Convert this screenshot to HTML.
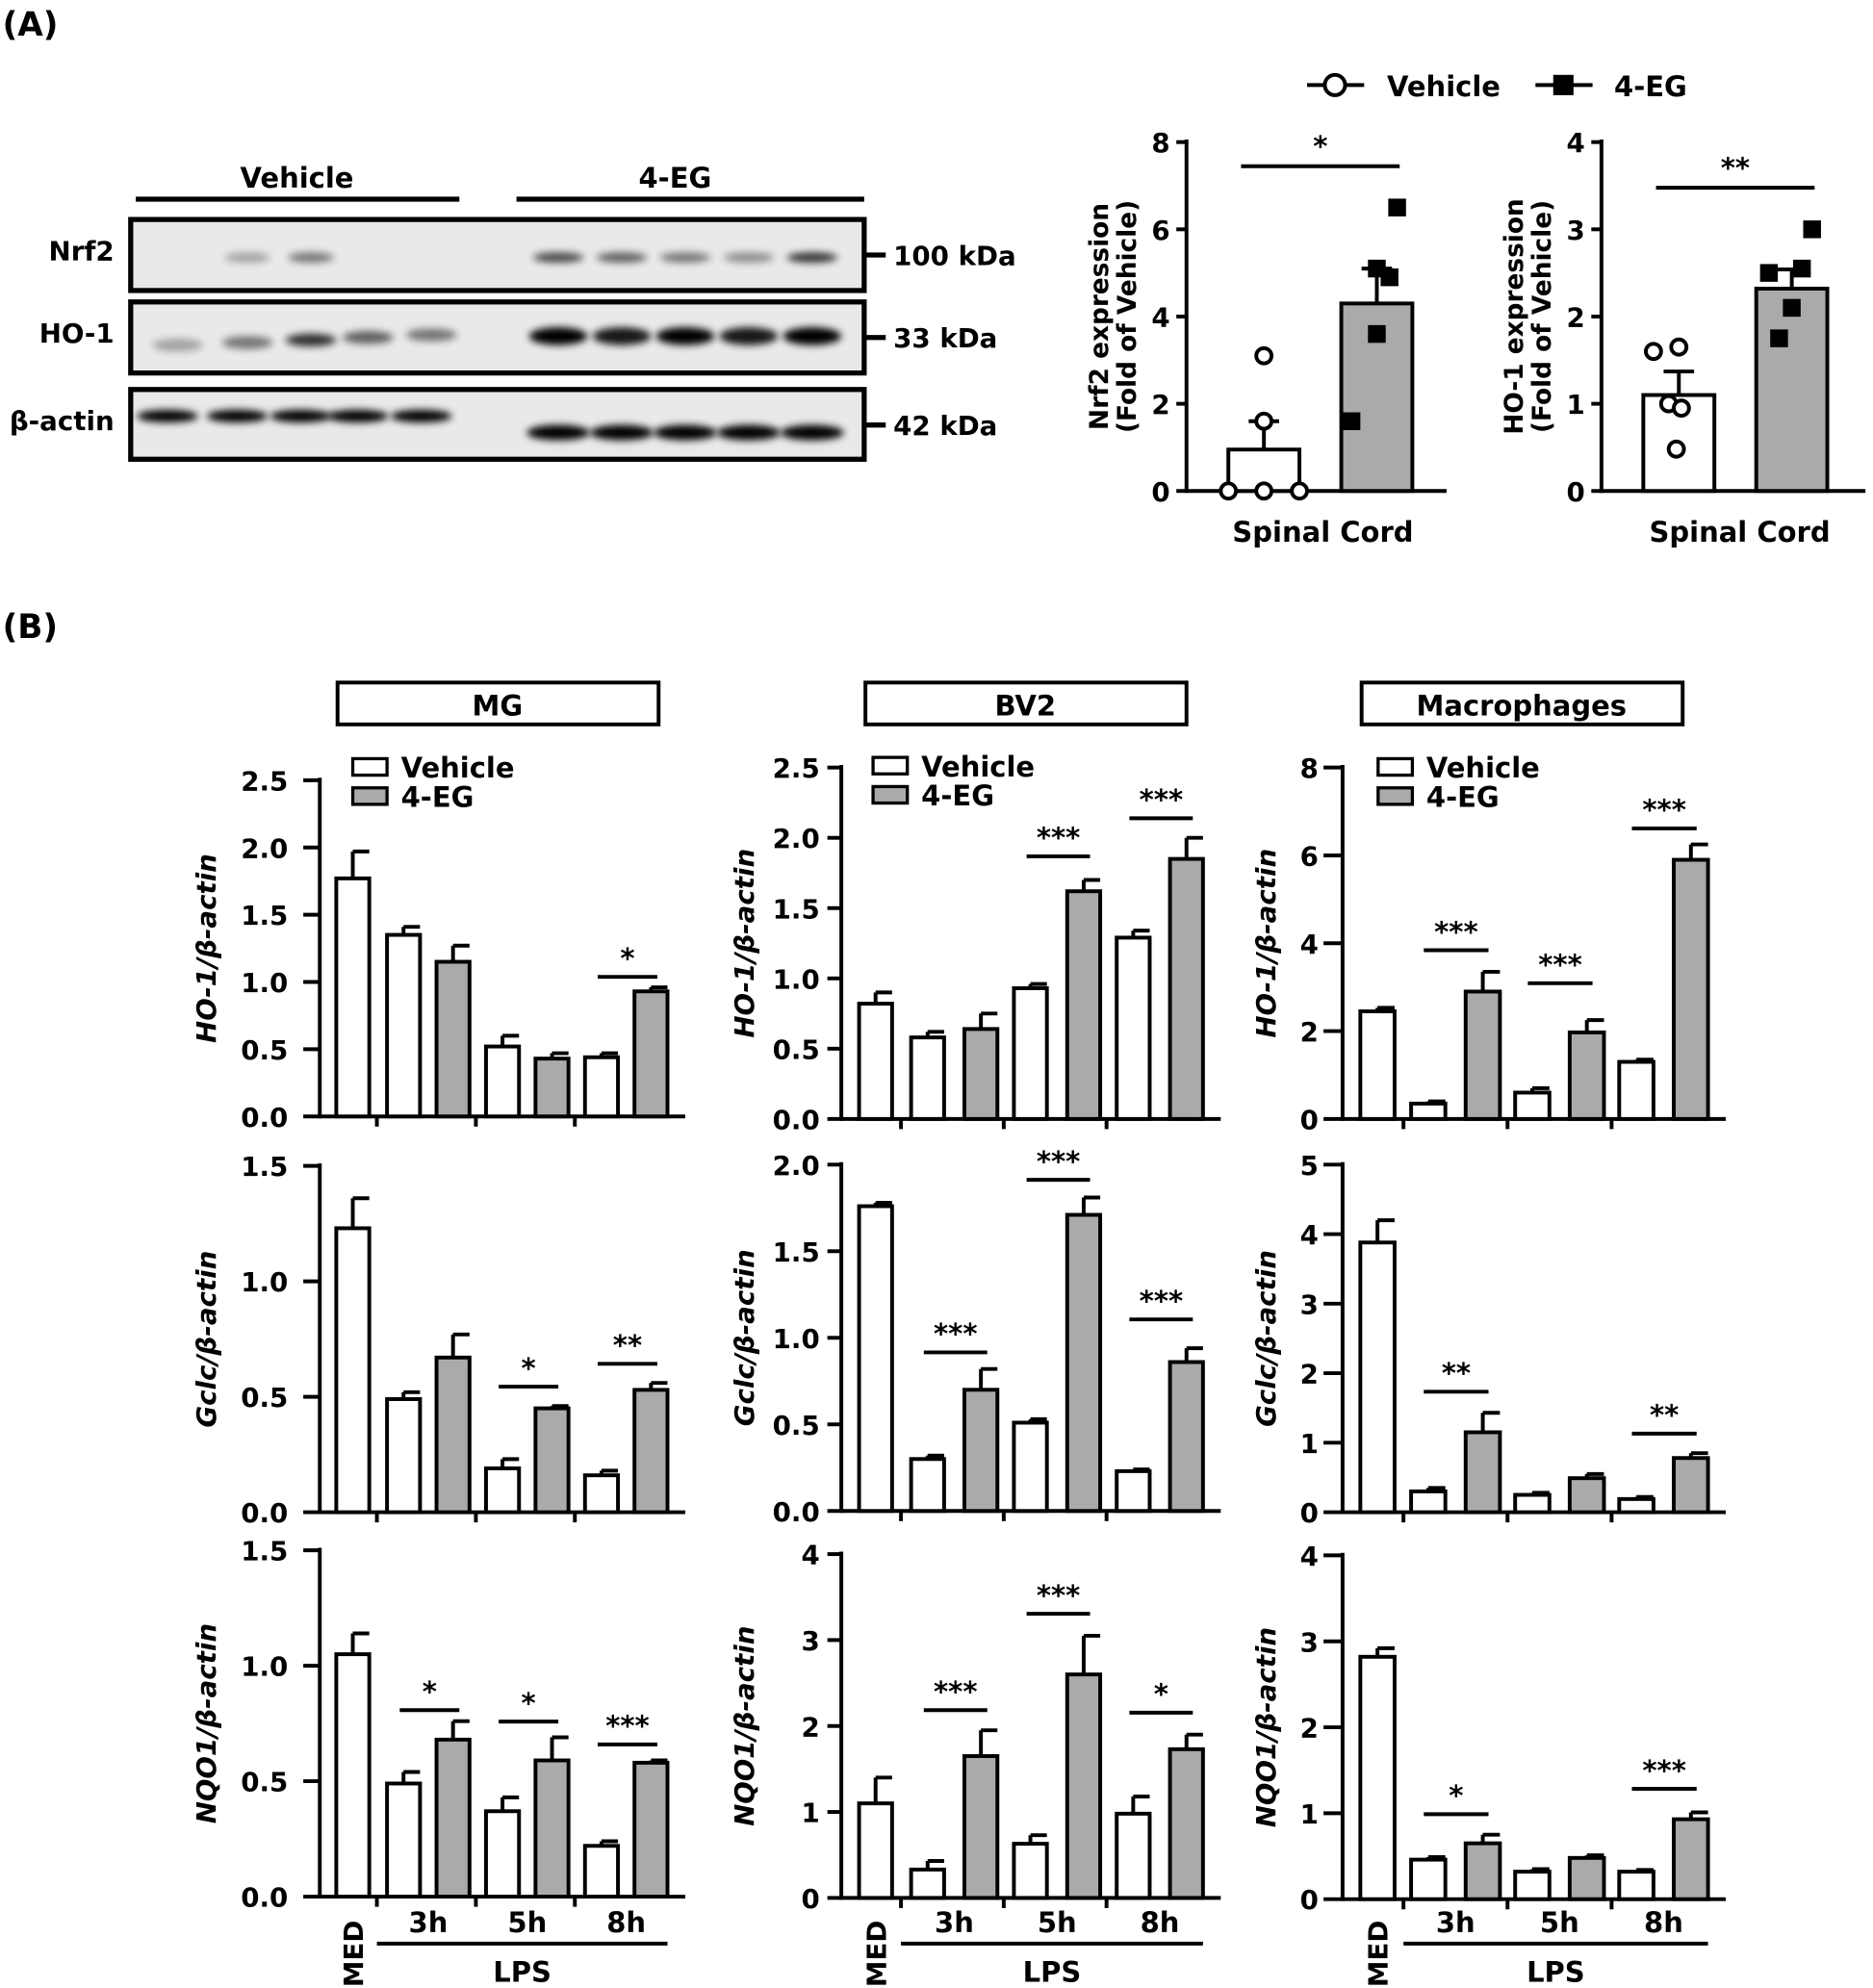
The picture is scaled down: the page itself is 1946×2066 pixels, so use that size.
<!DOCTYPE html>
<html><head><meta charset="utf-8"><style>
html,body{margin:0;padding:0;background:#fff}
svg{display:block}
text{font-family:"DejaVu Sans","Liberation Sans",sans-serif;font-weight:bold;fill:#000}
</style></head><body>
<svg id="s" width="1946" height="2066" viewBox="0 0 1476 1567" xmlns="http://www.w3.org/2000/svg">
<defs>
<filter id="bl" x="-50%" y="-100%" width="200%" height="300%"><feGaussianBlur stdDeviation="3"/></filter>
</defs>
</svg>
<script>
const S=document.getElementById('s');let h='';
function T(x,y,t,sz,anc,extra){h+=`<text x="${x}" y="${y}" font-size="${sz}" text-anchor="${anc||'start'}" ${extra||''}>${t}</text>`;}
function L(x1,y1,x2,y2,w){h+=`<line x1="${x1}" y1="${y1}" x2="${x2}" y2="${y2}" stroke="#000" stroke-width="${w||3}"/>`;}
function R(x,y,w,hh,f,sw){h+=`<rect x="${x}" y="${y}" width="${w}" height="${hh}" fill="${f}" stroke="#000" stroke-width="${sw||3}"/>`;}
T(2,28,'(A)',26);T(2,503,'(B)',26);
T(234,148,'Vehicle',22,'middle');T(532,148,'4-EG',22,'middle');
L(107,157,362,157,4);L(407,157,681,157,4);
const blots=[[173,'Nrf2','100 kDa'],[238,'HO-1','33 kDa'],[307,'β-actin','42 kDa']];
blots.forEach(([y,n,k],i)=>{
 h+=`<rect x="103" y="${y}" width="578" height="${i==2?55:56}" fill="#e9e9e9" stroke="#000" stroke-width="4"/>`;
 T(90,y+32,n,21,'end');L(681,y+28,698,y+28,4);T(704,y+36,k,21);
});
const vx=[140,195,245,290,340],gx=[440,490,540,590,640];
const nrfV=[0,.3,.5,0,0],nrfG=[.7,.6,.5,.4,.8];
vx.forEach((x,i)=>{if(nrfV[i])h+=`<ellipse cx="${x}" cy="203" rx="18" ry="4" fill="#000" opacity="${nrfV[i]}" filter="url(#bl)"/>`});
gx.forEach((x,i)=>{h+=`<ellipse cx="${x}" cy="203" rx="20" ry="4" fill="#000" opacity="${nrfG[i]}" filter="url(#bl)"/>`});
const hoV=[.3,.5,.8,.6,.5],hoG=[1,.9,1,.9,1];
vx.forEach((x,i)=>{h+=`<ellipse cx="${x}" cy="${272-i*2}" rx="20" ry="5" fill="#000" opacity="${hoV[i]}" filter="url(#bl)"/>`});
gx.forEach((x,i)=>{h+=`<ellipse cx="${x}" cy="265" rx="23" ry="7" fill="#000" opacity="${hoG[i]}" filter="url(#bl)"/>`});
vx.forEach((x,i)=>{h+=`<ellipse cx="${x-8}" cy="328" rx="24" ry="5" fill="#000" opacity="1" filter="url(#bl)"/>`});
gx.forEach((x,i)=>{h+=`<ellipse cx="${x}" cy="341" rx="25" ry="6" fill="#000" opacity="1" filter="url(#bl)"/>`});
L(1030,67,1075,67,3);h+=`<circle cx="1052" cy="67" r="8" fill="#fff" stroke="#000" stroke-width="3"/>`;T(1093,76,'Vehicle',22);
L(1210,67,1255,67,3);h+=`<rect x="1224" y="59" width="16" height="16" fill="#000"/>`;T(1272,76,'4-EG',22);
function sc(x0,top,bot,max,step,ylab1,ylab2,vals,sig,sigY,xend,pts1,pts2){
 const sy=v=>bot-(bot-top)*v/max;
 L(x0,top-2,x0,bot+1.5,3);L(x0,bot,xend,bot,3);
 for(let v=0;v<=max;v+=step){L(x0-8,sy(v),x0,sy(v),3);T(x0-13,sy(v)+8,v,21,'end');}
 const bx=[x0+33,x0+122];
 vals.forEach(([m,e],i)=>{R(bx[i],sy(m),56,bot-sy(m),i?'#aaa':'#fff',3);L(bx[i]+28,sy(m),bx[i]+28,sy(m+e),3);L(bx[i]+16,sy(m+e),bx[i]+40,sy(m+e),3);});
 pts1.forEach(([dx,v])=>{h+=`<circle cx="${bx[0]+dx}" cy="${sy(v)}" r="6" fill="#fff" stroke="#000" stroke-width="3"/>`});
 pts2.forEach(([dx,v])=>{h+=`<rect x="${bx[1]+dx-7}" y="${sy(v)-7}" width="14" height="14" fill="#000"/>`});
 L(bx[0]+10,sigY,bx[1]+46,sigY,3);T((bx[0]+bx[1]+56)/2,sigY-8,sig,22,'middle');
 T((x0+xend)/2+5,427,'Spinal Cord',22,'middle');
 const cy=(top+bot)/2;
 h+=`<text transform="translate(${x0-62},${cy}) rotate(-90)" font-size="20" text-anchor="middle">${ylab1}</text>`;
 h+=`<text transform="translate(${x0-40},${cy}) rotate(-90)" font-size="20" text-anchor="middle">${ylab2}</text>`;
}
sc(935,112,387,8,2,'Nrf2 expression','(Fold of Vehicle)',[[.95,.65],[4.3,.8]],'*',131,1140,
 [[0,0],[28,0],[56,0],[28,1.6],[28,3.1]],[[8,1.6],[28,3.6],[38,4.9],[28,5.1],[44,6.5]]);
sc(1262,112,387,4,1,'HO-1 expression','(Fold of Vehicle)',[[1.1,.27],[2.32,.22]],'**',148,1470,
 [[8,1.6],[28,1.65],[20,1.0],[30,.95],[26,.48]],[[10,2.5],[36,2.55],[28,2.1],[18,1.75],[44,3.0]]);
function box(x,t){R(x,538,253,33,'#fff',3);T(x+126,564,t,22,'middle');}
box(266,'MG');box(682,'BV2');box(1073,'Macrophages');
function leg(x,y){R(x,y-13,27,13,'#fff',2.5);T(x+38,y+2,'Vehicle',22);R(x,y+10,27,13,'#aaa',2.5);T(x+38,y+25,'4-EG',22);}
leg(278,611);leg(688,610);leg(1086,611);
const COLS={MG:{ax:252,med:265,t1:297,sp:78,bw:26,wo:8,go:47,tl:13,lg:25,yl:90},
 BV2:{ax:663,med:677,t1:710,sp:81,bw:26,wo:8,go:50,tl:11,lg:17,yl:77},
 MAC:{ax:1058,med:1072,t1:1106,sp:82,bw:27,wo:6,go:49,tl:15,lg:19,yl:61}};
function bar(c,top,bot,max,step,dec,ylab,vals,sigs,bottomRow){
 const C=COLS[c],x0=C.ax,bw=C.bw;
 const sy=v=>bot-(bot-top)*v/max;
 const xs=[C.med];for(let g=0;g<3;g++){xs.push(C.t1+g*C.sp+C.wo);xs.push(C.t1+g*C.sp+C.go);}
 const xend=xs[6]+bw+14;
 L(x0,top-2,x0,bot+1.5,3);L(x0,bot,xend,bot,3);
 for(let v=0;v<=max+1e-9;v+=step){L(x0-C.tl,sy(v),x0,sy(v),3);T(x0-C.lg,sy(v)+8,v.toFixed(dec),21,'end');}
 for(let g=0;g<3;g++)L(C.t1+g*C.sp,bot,C.t1+g*C.sp,bot+8,3);
 vals.forEach(([m,e],i)=>{const bx=xs[i];R(bx,sy(m),bw,bot-sy(m),(i>0&&i%2==0)?'#aaa':'#fff',3);
  L(bx+bw/2,sy(m),bx+bw/2,sy(m+e),3);L(bx+bw/2,sy(m+e),bx+bw,sy(m+e),3);});
 sigs.forEach(([g,y,t])=>{const a=xs[1+2*g]+10,b=xs[2+2*g]+18;L(a,y,b,y,3);T((a+b)/2,y-7,t,22,'middle');});
 h+=`<text transform="translate(${x0-C.yl+8},${(top+bot)/2}) rotate(-90)" font-size="21" font-style="italic" text-anchor="middle">${ylab}</text>`;
 if(bottomRow){
  h+=`<text transform="translate(${C.med+bw/2+8},1540) rotate(-90)" font-size="21" text-anchor="middle">MED</text>`;
  ['3h','5h','8h'].forEach((t,g)=>T((xs[1+2*g]+xs[2+2*g]+bw)/2,1523,t,22,'middle'));
  L(C.t1,1532,xs[6]+bw,1532,3);T((C.t1+xs[6]+bw)/2,1562,'LPS',22,'middle');
 }
}
bar('MG',615,880,2.5,.5,1,'HO-1/β-actin',[[1.77,.2],[1.35,.06],[1.15,.12],[.52,.08],[.43,.04],[.44,.03],[.93,.03]],[[2,770,'*']]);
bar('MG',919,1192,1.5,.5,1,'Gclc/β-actin',[[1.23,.13],[.49,.03],[.67,.1],[.19,.04],[.45,.01],[.16,.02],[.53,.03]],[[1,1093,'*'],[2,1075,'**']]);
bar('MG',1222,1495,1.5,.5,1,'NQO1/β-actin',[[1.05,.09],[.49,.05],[.68,.08],[.37,.06],[.59,.1],[.22,.02],[.58,.01]],[[0,1348,'*'],[1,1357,'*'],[2,1375,'***']],true);
bar('BV2',605,882,2.5,.5,1,'HO-1/β-actin',[[.82,.08],[.58,.04],[.64,.11],[.93,.03],[1.62,.08],[1.29,.05],[1.85,.15]],[[1,675,'***'],[2,645,'***']]);
bar('BV2',918,1191,2.0,.5,1,'Gclc/β-actin',[[1.76,.02],[.3,.02],[.7,.12],[.51,.02],[1.71,.1],[.23,.01],[.86,.08]],[[0,1066,'***'],[1,930,'***'],[2,1040,'***']]);
bar('BV2',1225,1496,4,1,0,'NQO1/β-actin',[[1.1,.3],[.33,.1],[1.65,.3],[.63,.1],[2.6,.45],[.98,.2],[1.73,.17]],[[0,1348,'***'],[1,1272,'***'],[2,1350,'*']],true);
bar('MAC',605,882,8,2,0,'HO-1/β-actin',[[2.45,.08],[.35,.05],[2.9,.45],[.6,.1],[1.97,.28],[1.3,.05],[5.9,.35]],[[0,749,'***'],[1,775,'***'],[2,653,'***']]);
bar('MAC',918,1192,5,1,0,'Gclc/β-actin',[[3.88,.32],[.3,.05],[1.15,.28],[.25,.03],[.49,.06],[.19,.03],[.78,.07]],[[0,1097,'**'],[2,1130,'**']]);
bar('MAC',1226,1497,4,1,0,'NQO1/β-actin',[[2.82,.1],[.46,.03],[.65,.1],[.32,.03],[.48,.03],[.32,.02],[.93,.08]],[[0,1430,'*'],[2,1410,'***']],true);
S.insertAdjacentHTML('beforeend',h);
</script>
</body></html>
